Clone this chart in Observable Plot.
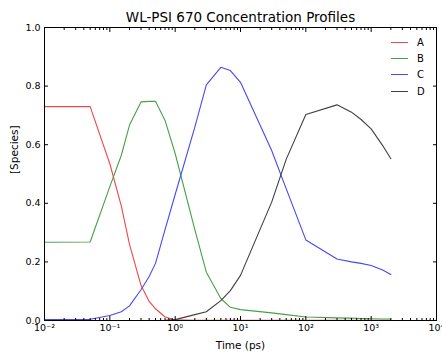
<!DOCTYPE html>
<html><head><meta charset="utf-8">
<script src="https://cdn.jsdelivr.net/npm/d3@7"></script>
<script src="https://cdn.jsdelivr.net/npm/@observablehq/plot@0.6"></script>
<style>
body{margin:0;background:#fff;}
#wrap{position:relative;width:442px;height:354px;font-family:"DejaVu Sans",sans-serif;}
#legend{position:absolute;left:391px;top:34px;font-size:10px;color:#000;}
#legend .row{height:16.4px;display:flex;align-items:center;}
#legend .sw{width:17px;height:0;border-top:1px solid;margin-right:9px;}
</style>
</head><body><div id="wrap"><div id="chart"></div><div id="legend"></div></div>
<script>
const titleText = "WL-PSI 670 Concentration Profiles";
const xLabel = "Time (ps)";
const yLabel = "[Species]";
const time = [0.01, 0.05, 0.1, 0.15, 0.2, 0.3, 0.4, 0.5, 0.7, 1, 2, 3, 5, 7, 10, 30, 50, 100, 300, 500, 700, 1000, 1500, 2000];
const seriesA = [0.730, 0.730, 0.535, 0.390, 0.260, 0.120, 0.065, 0.040, 0.012, 0.002, 0.001, 0.001, 0.001, 0.001, 0.001, 0.001, 0.001, 0.001, 0.001, 0.001, 0.001, 0.001, 0.001, 0.001];
const seriesB = [0.267, 0.268, 0.457, 0.564, 0.667, 0.746, 0.748, 0.748, 0.683, 0.570, 0.310, 0.165, 0.075, 0.045, 0.037, 0.026, 0.020, 0.012, 0.009, 0.008, 0.007, 0.006, 0.005, 0.005];
const seriesC = [0.003, 0.004, 0.017, 0.030, 0.050, 0.105, 0.150, 0.195, 0.310, 0.430, 0.660, 0.804, 0.864, 0.853, 0.813, 0.580, 0.450, 0.275, 0.210, 0.200, 0.195, 0.188, 0.172, 0.157];
const seriesD = [0.000, 0.000, 0.000, 0.000, 0.000, 0.000, 0.000, 0.000, 0.001, 0.003, 0.020, 0.030, 0.068, 0.102, 0.154, 0.404, 0.550, 0.703, 0.736, 0.711, 0.686, 0.654, 0.597, 0.552];
const seriesNames = ["A", "B", "C", "D"];
const seriesColors = ["#f04848", "#48a048", "#4848f0", "#404040"];
const xTickValues = [0.01, 0.1, 1, 10, 100, 1000, 10000];
const xTickLabels = ["10\u207B\u00B2", "10\u207B\u00B9", "10\u2070", "10\u00B9", "10\u00B2", "10\u00B3", "10\u2074"];
const yTickValues = [0, 0.2, 0.4, 0.6, 0.8, 1.0];
const yTickLabels = ["0.0", "0.2", "0.4", "0.6", "0.8", "1.0"];
const minorMultipliers = [2, 3, 4, 5, 6, 7, 8, 9];

const allSeries = [seriesA, seriesB, seriesC, seriesD];
const data = [];
allSeries.forEach((vals, si) => vals.forEach((v, i) => data.push({t: time[i], v, s: seriesNames[si]})));
const minorTicks = [];
xTickValues.slice(0, -1).forEach(d => minorMultipliers.forEach(m => minorTicks.push(d * m)));

const xFmt = d => xTickLabels[xTickValues.indexOf(d)];
const yFmt = d => yTickLabels[yTickValues.indexOf(d)];
const blank = () => "";

const chart = Plot.plot({
  width: 442, height: 354,
  marginLeft: 44, marginRight: 6, marginTop: 27, marginBottom: 34,
  style: {fontFamily: "DejaVu Sans", background: "#fff"},
  x: {type: "log", domain: [0.01, 10000]},
  y: {domain: [0, 1]},
  color: {domain: seriesNames, range: seriesColors},
  marks: [
    Plot.line(data, {x: "t", y: "v", z: "s", stroke: "s", strokeWidth: 1.1}),
    Plot.frame({stroke: "#000", strokeWidth: 1}),
    Plot.axisX(xTickValues, {anchor: "bottom", tickSize: -4, tickPadding: 8, tickFormat: xFmt, fontSize: 9.5, label: null, stroke: "#000", color: "#000"}),
    Plot.axisX(minorTicks, {anchor: "bottom", tickSize: -2, tickPadding: 7, tickFormat: blank, label: null, stroke: "#000"}),
    Plot.axisX(xTickValues, {anchor: "top", tickSize: -4, tickFormat: blank, label: null, stroke: "#000"}),
    Plot.axisX(minorTicks, {anchor: "top", tickSize: -2, tickFormat: blank, label: null, stroke: "#000"}),
    Plot.axisY(yTickValues, {anchor: "left", tickSize: -4, tickPadding: 8, tickFormat: yFmt, fontSize: 9.5, label: null, stroke: "#000", color: "#000"}),
    Plot.axisY(yTickValues, {anchor: "right", tickSize: -4, tickFormat: blank, label: null, stroke: "#000"}),
    Plot.text([titleText], {frameAnchor: "top", lineAnchor: "middle", dy: -10, fontSize: 13.5, fill: "#000"}),
    Plot.text([xLabel], {frameAnchor: "bottom", lineAnchor: "middle", dy: 25, fontSize: 10.5, fill: "#000"}),
    Plot.text([yLabel], {frameAnchor: "left", dx: -30, rotate: -90, fontSize: 10.5, fill: "#000"})
  ]
});
document.getElementById("chart").appendChild(chart);

const legend = document.getElementById("legend");
seriesNames.forEach((n, i) => {
  const row = document.createElement("div");
  row.className = "row";
  const sw = document.createElement("span");
  sw.className = "sw";
  sw.style.borderTopColor = seriesColors[i];
  const lab = document.createElement("span");
  lab.textContent = n;
  row.appendChild(sw); row.appendChild(lab);
  legend.appendChild(row);
});
</script>
</body></html>
